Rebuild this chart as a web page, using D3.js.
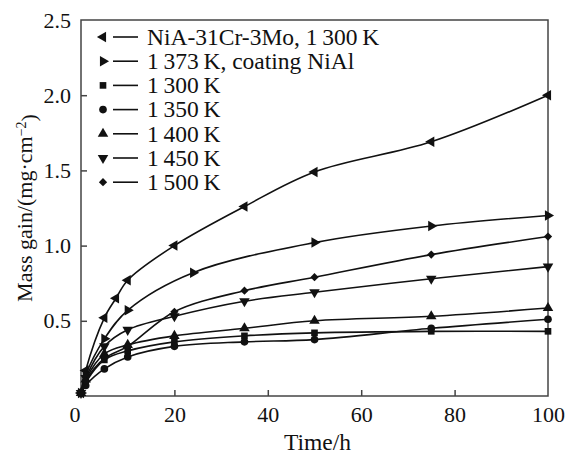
<!DOCTYPE html>
<meta charset="utf-8">
<style>
body { margin: 0; background: #fff; }
text { font-family: "Liberation Serif", "Times New Roman", serif; fill: #111; }
.frame { fill: none; stroke: #444; stroke-width: 1.5px; }
.tick line { stroke: #444; stroke-width: 1.5px; }
.curve { fill: none; stroke: #111; stroke-width: 1.6px; }
</style>
<svg width="565" height="455"></svg>
<script src="https://cdn.jsdelivr.net/npm/d3@7"></script>
<script>

// time in hours, mass gain in mg/cm^2
var tNiA   = [0, 1, 5, 7.5, 10, 20, 35, 50, 75, 100],
    vNiA   = [0.02, 0.17, 0.52, 0.65, 0.77, 1.0, 1.26, 1.49, 1.69, 2.0];
var tCoat  = [0, 1, 5, 10, 24, 50, 75, 100],
    vCoat  = [0.02, 0.14, 0.38, 0.57, 0.82, 1.02, 1.13, 1.2];
var tTemp  = [0, 1, 5, 10, 20, 35, 50, 75, 100],
    v1300  = [0.02, 0.09, 0.24, 0.30, 0.36, 0.40, 0.42, 0.43, 0.43],
    v1350  = [0.02, 0.07, 0.18, 0.26, 0.33, 0.36, 0.375, 0.45, 0.51],
    v1400  = [0.02, 0.11, 0.28, 0.34, 0.40, 0.45, 0.50, 0.53, 0.585],
    v1450  = [0.02, 0.12, 0.33, 0.44, 0.53, 0.63, 0.69, 0.78, 0.86],
    v1500  = [0.02, 0.10, 0.25, 0.33, 0.56, 0.70, 0.79, 0.94, 1.06];

var names = ["NiA-31Cr-3Mo, 1\u2009300\u2009K", "1\u2009373\u2009K, coating NiAl", "1\u2009300\u2009K",
             "1\u2009350\u2009K", "1\u2009400\u2009K", "1\u2009450\u2009K", "1\u2009500\u2009K"];
var shapes = ["left", "right", "square", "circle", "up", "down", "diamond"];

var xTicks = [0, 20, 40, 60, 80, 100],
    yTicks = [0.5, 1.0, 1.5, 2.0, 2.5];

var series = [
  {t: tNiA, v: vNiA}, {t: tCoat, v: vCoat}, {t: tTemp, v: v1300}, {t: tTemp, v: v1350},
  {t: tTemp, v: v1400}, {t: tTemp, v: v1450}, {t: tTemp, v: v1500}
].map(function(s, i) {
  return {name: names[i], shape: shapes[i], values: s.t.map(function(t, j) { return {t: t, v: s.v[j]}; })};
});

var svg = d3.select("svg"),
    margin = {top: 20, right: 17, bottom: 59, left: 81},
    width = svg.attr("width") - margin.left - margin.right,
    height = svg.attr("height") - margin.top - margin.bottom,
    g = svg.append("g").attr("transform", "translate(" + margin.left + "," + margin.top + ")");

var x = d3.scaleLinear().domain([0, 100]).range([0, width]);
var y = d3.scaleLinear().domain([0, 2.5]).range([height, 0]);

function symbolPath(shape) {
  if (shape == "circle") return {d: d3.symbol(d3.symbolCircle, 46)(), rot: 0};
  if (shape == "square") return {d: d3.symbol(d3.symbolSquare, 44)(), rot: 0};
  if (shape == "diamond") return {d: d3.symbol(d3.symbolSquare, 34)(), rot: 45};
  var rot = {up: 0, right: 90, down: 180, left: -90}[shape];
  return {d: d3.symbol(d3.symbolTriangle, 48)(), rot: rot};
}

var line = d3.line()
    .curve(d3.curveCatmullRom.alpha(0.5))
    .x(function(d) { return x(d.t); })
    .y(function(d) { return y(d.v); });

// axes as inward ticks
var xa = g.append("g").attr("transform", "translate(0," + height + ")")
    .call(d3.axisBottom(x).tickValues(xTicks).tickSize(-6).tickPadding(10).tickFormat(d3.format("d")));
xa.select(".domain").remove();
xa.selectAll("text").style("font-size", "22px").attr("fill", "#111")
    .attr("dx", function(d) { return d == 0 ? "-0.3em" : 0; });
xa.selectAll(".tick").filter(function(d) { return d == 0 || d == 100; }).select("line").remove();

var ya = g.append("g")
    .call(d3.axisLeft(y).tickValues(yTicks).tickSize(-6).tickPadding(10).tickFormat(d3.format(".1f")));
ya.select(".domain").remove();
ya.selectAll("text").style("font-size", "22px").attr("fill", "#111");
ya.selectAll(".tick").filter(function(d) { return d == 2.5; }).select("line").remove();

g.append("rect").attr("class", "frame").attr("width", width).attr("height", height);

// curves and markers
var s = g.selectAll(".series").data(series).enter().append("g").attr("class", "series");

s.append("path").attr("class", "curve").attr("d", function(d) { return line(d.values); });

s.each(function(d) {
  var sym = symbolPath(d.shape);
  d3.select(this).selectAll(".pt").data(d.values).enter().append("path")
      .attr("class", "pt")
      .attr("d", sym.d)
      .attr("fill", "#111")
      .attr("transform", function(p) { return "translate(" + x(p.t) + "," + y(p.v) + ") rotate(" + sym.rot + ")"; });
});

// legend
var lg = g.append("g").attr("transform", "translate(22,17)");
var row = lg.selectAll(".row").data(series).enter().append("g")
    .attr("transform", function(d, i) { return "translate(0," + (i * 24.2) + ")"; });
row.append("path")
    .attr("d", function(d) { return symbolPath(d.shape).d; })
    .attr("transform", function(d) { return "rotate(" + symbolPath(d.shape).rot + ")"; })
    .attr("fill", "#111");
row.append("line").attr("x1", 10).attr("x2", 35).attr("stroke", "#111").attr("stroke-width", 1.6);
row.append("text").attr("x", 44).attr("dy", "0.33em").style("font-size", "23.5px")
    .text(function(d) { return d.name; });

// axis titles
svg.append("text")
    .attr("x", margin.left + width / 2 + 3)
    .attr("y", 450)
    .attr("text-anchor", "middle")
    .style("font-size", "23.5px")
    .text("Time/h");

var yt = svg.append("text")
    .attr("transform", "translate(32," + (margin.top + height / 2) + ") rotate(-90)")
    .attr("text-anchor", "middle")
    .style("font-size", "22px");
yt.append("tspan").text("Mass gain/(mg\u00b7cm");
yt.append("tspan").attr("dy", "-0.45em").style("font-size", "14px").text("\u22122");
yt.append("tspan").attr("dy", "0.45em").text(")");

</script>
